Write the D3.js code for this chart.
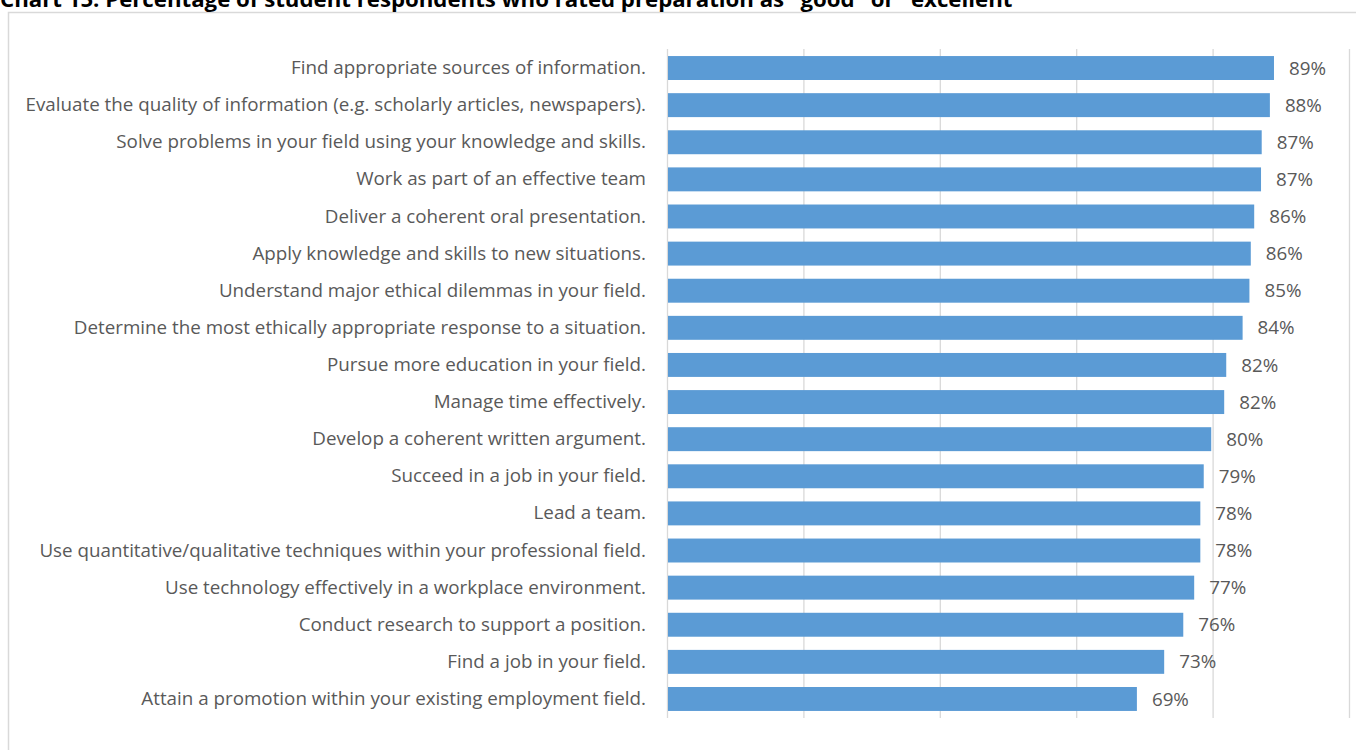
<!DOCTYPE html>
<html>
<head>
<meta charset="utf-8">
<script src="https://cdn.jsdelivr.net/npm/d3@7/dist/d3.min.js"></script>
<style>
  html, body { margin: 0; padding: 0; background: #fff; }
  svg { display: block; }
</style>
</head>
<body>
<svg id="chart" width="1356" height="750"></svg>
<script>
const titleText = 'Chart 15: Percentage of student respondents who rated preparation as "good" or "excellent"';

const categories = [
  "Find appropriate sources of information.",
  "Evaluate the quality of information (e.g. scholarly articles, newspapers).",
  "Solve problems in your field using your knowledge and skills.",
  "Work as part of an effective team",
  "Deliver a coherent oral presentation.",
  "Apply knowledge and skills to new situations.",
  "Understand major ethical dilemmas in your field.",
  "Determine the most ethically appropriate response to a situation.",
  "Pursue more education in your field.",
  "Manage time effectively.",
  "Develop a coherent written argument.",
  "Succeed in a job in your field.",
  "Lead a team.",
  "Use quantitative/qualitative techniques within your professional field.",
  "Use technology effectively in a workplace environment.",
  "Conduct research to support a position.",
  "Find a job in your field.",
  "Attain a promotion within your existing employment field."
];

// Share of respondents rating preparation "good" or "excellent"
const values = [0.890, 0.884, 0.872, 0.871, 0.861, 0.856, 0.854, 0.844, 0.820, 0.817,
                0.798, 0.787, 0.782, 0.782, 0.773, 0.757, 0.729, 0.689];

const xTicks = [0, 0.2, 0.4, 0.6, 0.8, 1.0];

const svg = d3.select("#chart");
const fontFamily = "'Open Sans', 'Noto Sans', sans-serif";
const textColor = "#595959";
const gridColor = "#D9D9D9";
const barColor = "#5B9BD5";
const labelSize = 18.8;

// Chart frame
svg.append("rect")
  .attr("x", 8.5).attr("y", 12.5)
  .attr("width", 1400).attr("height", 800)
  .attr("fill", "none").attr("stroke", gridColor).attr("stroke-width", 1.5);

// Title (sits above the frame, top edge runs off the page)
const title = svg.append("text")
  .attr("x", 0).attr("y", 6.5)
  .attr("font-family", fontFamily)
  .attr("font-weight", "bold")
  .attr("font-size", 18)
  .attr("fill", "#000")
  .text(titleText);
// scale the title so it spans the same run as the page heading
const tw = title.node().getComputedTextLength();
title.attr("font-size", 18 * 1023 / tw);

const plot = { left: 667, right: 1349, top: 49, bottom: 718 };

const x = d3.scaleLinear().domain([0, 1]).range([plot.left, plot.right]);
const y = d3.scaleBand().domain(categories).range([plot.top, plot.bottom])
  .paddingInner(0.355).paddingOuter(0.19);

// Vertical gridlines
svg.append("g")
  .attr("transform", `translate(0,${plot.bottom})`)
  .call(d3.axisBottom(x).tickValues(xTicks).tickSize(-(plot.bottom - plot.top)).tickFormat(""))
  .call(g => g.select(".domain").remove())
  .call(g => g.selectAll(".tick line").attr("stroke", gridColor).attr("stroke-width", 1.3));

// Bars
svg.append("g")
  .selectAll("rect")
  .data(values)
  .join("rect")
  .attr("x", x(0) + 1)
  .attr("y", (d, i) => y(categories[i]))
  .attr("width", d => x(d) - x(0) - 1)
  .attr("height", y.bandwidth())
  .attr("fill", barColor);

// Category labels
svg.append("g")
  .attr("transform", `translate(${plot.left},0)`)
  .call(d3.axisLeft(y).tickSize(0).tickPadding(21))
  .call(g => g.select(".domain").remove())
  .call(g => g.selectAll("text")
    .attr("font-family", fontFamily)
    .attr("font-size", labelSize)
    .attr("fill", textColor));

// Value labels
const fmt = d3.format(".0%");
svg.append("g")
  .selectAll("text")
  .data(values)
  .join("text")
  .attr("x", d => x(d) + 15)
  .attr("y", (d, i) => y(categories[i]) + y.bandwidth() / 2)
  .attr("dy", "0.35em")
  .attr("font-family", fontFamily)
  .attr("font-size", labelSize)
  .attr("fill", textColor)
  .text(d => fmt(d));
</script>
</body>
</html>
